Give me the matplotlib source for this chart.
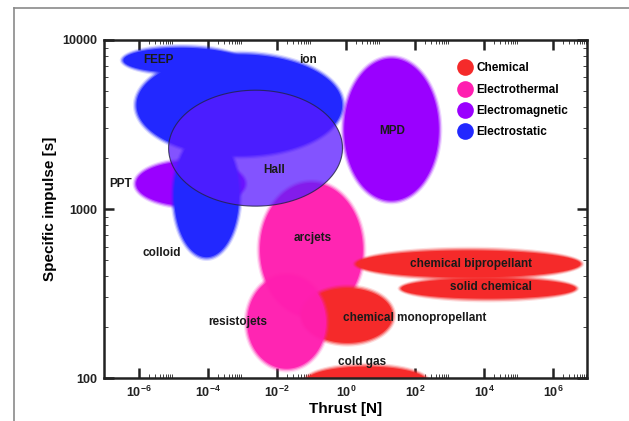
import numpy as np
import matplotlib
matplotlib.use("Agg")
from matplotlib import pyplot as plt
from matplotlib.lines import Line2D
from matplotlib.ticker import FixedLocator, NullFormatter, FuncFormatter

plt.rcParams['font.family'] = ['Liberation Sans', 'DejaVu Sans']
plt.rcParams['mathtext.fontset'] = 'custom'
plt.rcParams['mathtext.rm'] = 'Liberation Sans:bold'
plt.rcParams['mathtext.it'] = 'Liberation Sans:bold'

# thruster regions: centre and half-size in decades (log10 thrust, log10 Isp)
names = ['FEEP', 'ion', 'PPT', 'colloid', 'MPD', 'arcjets', 'chemical monopropellant',
         'resistojets', 'chemical bipropellant', 'solid chemical', 'cold gas', 'Hall']
kind = ['Electrostatic', 'Electrostatic', 'Electromagnetic', 'Electrostatic', 'Electromagnetic',
        'Electrothermal', 'Chemical', 'Electrothermal', 'Chemical', 'Chemical', 'Chemical', 'Hall']
log_thrust = [-4.77, -3.09, -4.51, -4.04, 1.32, -1.00, 0.04, -1.72, 3.55, 4.13, 0.59, -2.62]
log_isp = [3.88, 3.615, 3.15, 3.08, 3.47, 2.76, 2.37, 2.33, 2.675, 2.53, 1.98, 3.36]
half_w = [1.68, 2.98, 1.57, 0.94, 1.37, 1.49, 1.31, 1.14, 3.25, 2.53, 1.76, 2.52]
half_h = [0.074, 0.30, 0.132, 0.365, 0.42, 0.395, 0.162, 0.275, 0.080, 0.060, 0.088, 0.343]

# where each label sits
lab_x = [-5.43, -1.09, -6.54, -5.35, 1.35, -0.97, 1.99, -3.14, 3.61, 4.19, 0.48, -2.07]
lab_y = [3.88, 3.88, 3.15, 2.74, 3.46, 2.83, 2.355, 2.33, 2.675, 2.54, 2.095, 3.23]

legend_names = ['Chemical', 'Electrothermal', 'Electromagnetic', 'Electrostatic']
colors = {'Chemical': '#f52a2a', 'Electrothermal': '#ff1eb0',
          'Electromagnetic': '#9a00ff', 'Electrostatic': '#2228ff', 'Hall': '#5a1aff'}
alphas = {'Chemical': 1.0, 'Electrothermal': 0.9, 'Electromagnetic': 1.0,
          'Electrostatic': 1.0, 'Hall': 0.75}

fig = plt.figure(figsize=(6.29, 4.21), dpi=100)
ax = fig.add_axes([0.166, 0.102, 0.768, 0.803])
ax.set_xscale('log')
ax.set_yscale('log')
ax.set_xlim(1e-7, 1e7)
ax.set_ylim(100, 10000)

t = np.linspace(0, 2 * np.pi, 240)
# feather widths in decades (about a pixel step each way)
fx, fy = 0.035, 0.0075


def blob(cx, cy, a, b, color, alpha, z, soft=True):
    if soft:
        for k, al in [(3, 0.15), (2, 0.3), (1, 0.5)]:
            ax.fill(10 ** (cx + (a + k * fx) * np.cos(t)), 10 ** (cy + (b + k * fy) * np.sin(t)),
                    color=color, alpha=al * alpha, lw=0, zorder=z)
    ax.fill(10 ** (cx + a * np.cos(t)), 10 ** (cy + b * np.sin(t)),
            color=color, alpha=alpha, lw=0, zorder=z)


for z, i in enumerate(range(len(names))):
    blob(log_thrust[i], log_isp[i], half_w[i], half_h[i], colors[kind[i]], alphas[kind[i]],
         2 + z, soft=(kind[i] != 'Hall'))

# outline of the Hall region
h = names.index('Hall')
ax.plot(10 ** (log_thrust[h] + half_w[h] * np.cos(t)), 10 ** (log_isp[h] + half_h[h] * np.sin(t)),
        color='#222244', lw=0.8, alpha=0.8, zorder=20)

for n, x, y in zip(names, lab_x, lab_y):
    ax.text(10 ** x, 10 ** y, n, ha='center', va='center', fontsize=8.5,
            fontweight='bold', color='#1a1a1a', zorder=30)

# ticks
ax.xaxis.set_major_locator(FixedLocator([10.0 ** e for e in range(-6, 7, 2)]))
ax.xaxis.set_minor_locator(FixedLocator([k * 10.0 ** e for e in range(-6, 7, 2) for k in range(2, 10)]))
ax.xaxis.set_major_formatter(FuncFormatter(lambda v, p: r'$10^{%d}$' % round(np.log10(v))))
ax.xaxis.set_minor_formatter(NullFormatter())
ax.yaxis.set_major_locator(FixedLocator([100, 1000, 10000]))
ax.yaxis.set_minor_locator(FixedLocator([k * 10.0 ** e for e in (2, 3) for k in range(2, 10)]))
ax.yaxis.set_major_formatter(FuncFormatter(lambda v, p: '%d' % v))
ax.yaxis.set_minor_formatter(NullFormatter())
ax.tick_params(which='both', direction='in', top=True, right=True, colors='#222222')
ax.tick_params(which='major', length=7, width=1.8, labelsize=9, pad=5)
ax.tick_params(which='minor', length=3, width=0.6)
for lab in ax.get_yticklabels():
    lab.set_fontweight('bold')
for sp in ax.spines.values():
    sp.set_linewidth(1.8)
    sp.set_color('#222222')
    sp.set_zorder(40)

ax.set_xlabel('Thrust [N]', fontsize=11, fontweight='bold', labelpad=1)
ax.set_ylabel('Specific impulse [s]', fontsize=11, fontweight='bold', labelpad=4)

handles = [Line2D([], [], ls='', marker='o', ms=12, mec='none', color=colors[k]) for k in legend_names]
leg = ax.legend(handles, legend_names, loc='upper left', bbox_to_anchor=(0.71, 0.965),
                frameon=False, handletextpad=0.35, labelspacing=0.78, handlelength=1.2,
                prop={'weight': 'bold', 'size': 8.5})
leg.set_zorder(50)

# thin grey border round the figure, open on the right and bottom
fig.add_artist(Line2D([14 / 629, 14 / 629], [0, 1 - 8 / 421], transform=fig.transFigure,
                      color='#8a8a8a', lw=1.2))
fig.add_artist(Line2D([14 / 629, 1], [1 - 8 / 421, 1 - 8 / 421], transform=fig.transFigure,
                      color='#8a8a8a', lw=1.2))

fig.savefig('out.png', dpi=100)
